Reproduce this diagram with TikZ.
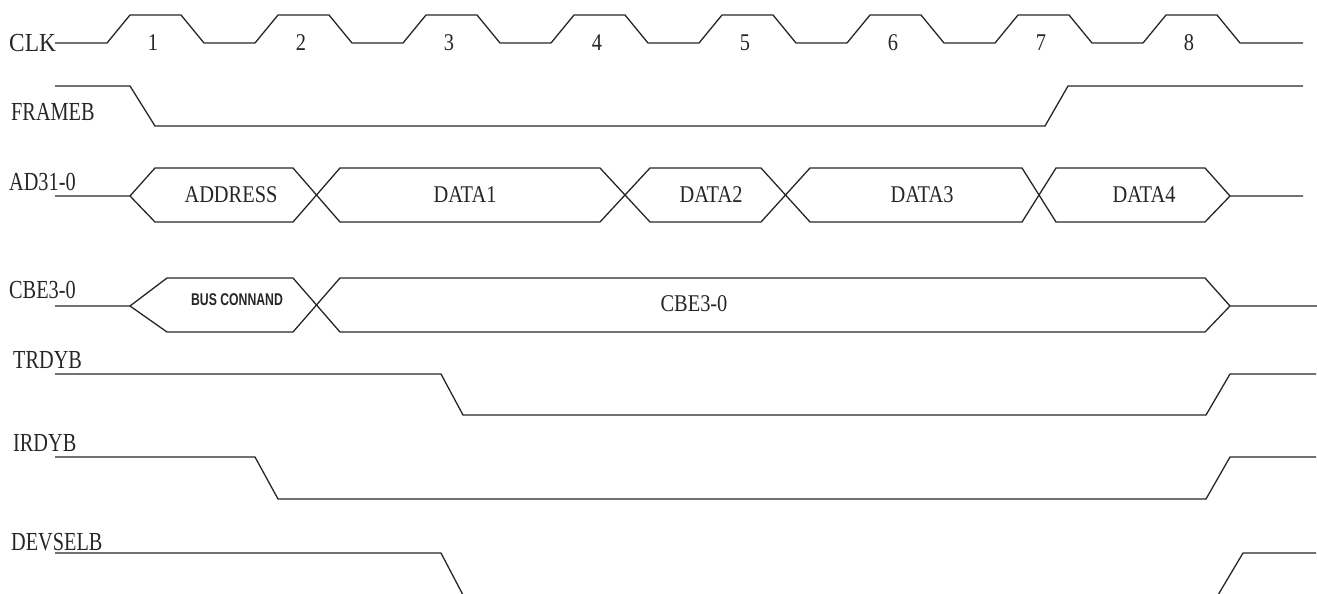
\documentclass[tikz,border=0pt]{standalone}
\usepackage{fontspec}
\usepackage{graphicx}
\setmainfont{Liberation Serif}
\newfontfamily\smallsans{Liberation Sans}
\newcommand{\siglbl}[1]{\scalebox{0.78}[1]{\fontsize{26}{26}\selectfont #1}}
\newcommand{\boxlbl}[1]{\scalebox{0.85}[1]{\fontsize{24}{24}\selectfont #1}}
\newcommand{\tinylbl}[1]{\scalebox{0.72}[1]{\smallsans\bfseries\fontsize{17}{17}\selectfont #1}}
\begin{document}
\begin{tikzpicture}[x=1pt,y=-1pt,
  sig/.style={draw=black!85, line width=1.3pt, line join=miter},
  lab/.style={inner sep=0pt, anchor=west, text=black!85},
  txt/.style={inner sep=0pt, text=black!85}]
\useasboundingbox (0,0) rectangle (1317,594);
\clip (0,0) rectangle (1317,594);
% signal names
\node[lab] (nclk) at (9,43) {\scalebox{0.9}[1]{\fontsize{26}{26}\selectfont CLK}};
\node[lab] (nframe) at (11,112) {\siglbl{FRAMEB}};
\node[lab] (nad) at (9,182) {\siglbl{AD31-0}};
\node[lab] (ncbe) at (9,290) {\siglbl{CBE3-0}};
\node[lab] (ntrdy) at (13,360) {\siglbl{TRDYB}};
\node[lab] (nirdy) at (13,443) {\siglbl{IRDYB}};
\node[lab] (ndev) at (11,542) {\siglbl{DEVSELB}};
% clock
\draw[sig] (55,43) \foreach \k in {0,...,7}{ -- ({107+148*\k},43) -- ({130+148*\k},15) -- ({181+148*\k},15) -- ({204+148*\k},43)} -- (1303,43);
\foreach \k in {1,...,8}{
  \node[txt] (c\k) at ({153+148*(\k-1)},43) {\boxlbl{\k}};
}
% FRAMEB
\draw[sig] (55,86) -- (130,86) -- (155,126) -- (1045,126) -- (1068,86) -- (1303,86);
% AD bus
\draw[sig] (55,196) -- (130,196) -- (155,168) -- (293,168) -- (340,222) -- (600,222) -- (650,168) -- (761,168) -- (810,222) -- (1022,222) -- (1056,168) -- (1205,168) -- (1230,196) -- (1303,196);
\draw[sig] (130,196) -- (155,222) -- (293,222) -- (340,168) -- (600,168) -- (650,222) -- (761,222) -- (810,168) -- (1022,168) -- (1056,222) -- (1205,222) -- (1230,196);
\node[txt] (addr) at (231,195) {\boxlbl{ADDRESS}};
\node[txt] (d1) at (465,195) {\boxlbl{DATA1}};
\node[txt] (d2) at (711,195) {\boxlbl{DATA2}};
\node[txt] (d3) at (922,195) {\boxlbl{DATA3}};
\node[txt] (d4) at (1144,195) {\boxlbl{DATA4}};
% CBE bus
\draw[sig] (55,306) -- (130,306) -- (167,278) -- (293,278) -- (340,332) -- (1205,332) -- (1230,306) -- (1317,306);
\draw[sig] (130,306) -- (167,332) -- (293,332) -- (340,278) -- (1205,278) -- (1230,306);
\node[txt] (bus) at (237,300) {\tinylbl{BUS CONNAND}};
\node[txt] (cbe) at (694,304) {\boxlbl{CBE3-0}};
% TRDYB
\draw[sig] (55,374) -- (441,374) -- (463,415) -- (1206,415) -- (1230,374) -- (1316,374);
% IRDYB
\draw[sig] (55,457) -- (255,457) -- (278,499) -- (1206,499) -- (1230,457) -- (1316,457);
% DEVSELB
\draw[sig] (55,553) -- (441,553) -- (463,595);
\draw[sig] (1218,595) -- (1243,553) -- (1316,553);
\end{tikzpicture}
\end{document}
